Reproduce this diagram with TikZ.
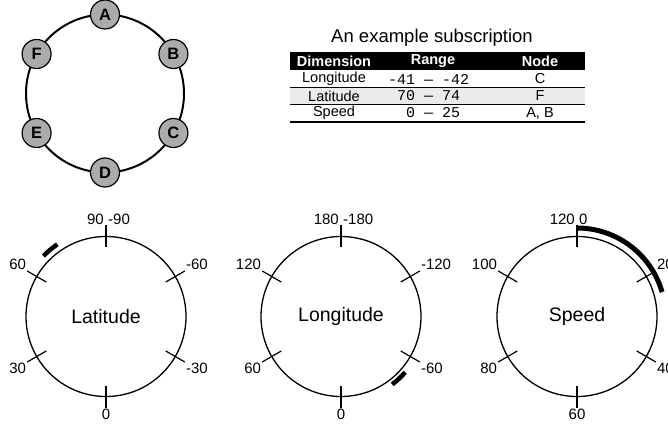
\documentclass[tikz,border=0pt]{standalone}
\usepackage{fontspec}
\setmainfont{Liberation Sans}
\newfontfamily\monof{Liberation Mono}
\definecolor{nodegray}{HTML}{ABABAB}
\definecolor{rowgray}{HTML}{EBEBEB}
\begin{document}
\begin{tikzpicture}[x=1pt,y=1pt,
  ringnode/.style={circle,draw=black,line width=1.2pt,fill=nodegray,minimum size=29pt,inner sep=0pt,font=\fontsize{16.5}{16.5}\selectfont\bfseries},
  dialline/.style={line width=1.3pt},
  tickline/.style={line width=1.2pt},
  ticklab/.style={font=\fontsize{15}{15}\selectfont,inner sep=1pt},
  dialname/.style={font=\fontsize{19.5}{20}\selectfont},
  rangebar/.style={line width=4.5pt},
  headtxt/.style={text=white,font=\fontsize{14.5}{15}\selectfont\bfseries,inner sep=0pt},
  celltxt/.style={font=\fontsize{14.5}{15}\selectfont,inner sep=0pt},
  monotxt/.style={font=\fontsize{15}{15}\selectfont\monof,inner sep=0pt,anchor=west},
  thinrule/.style={line width=0.8pt},
  thickrule/.style={line width=2pt}]
\useasboundingbox (0,0) rectangle (668,-427);

% ring of nodes
\coordinate (rc) at (105,-93.5);
\draw[line width=2pt] (rc) circle (79);
\foreach \n/\a in {A/90,B/30,C/-30,D/-90,E/210,F/150}
  \node[ringnode] (\n) at ([shift={(\a:79)}]rc) {\n};

% table
\node[font=\fontsize{18.5}{19}\selectfont] (title) at (432,-38) {An example subscription};
\fill[black] (290,-52) rectangle (585,-70.5);
\fill[rowgray] (290,-87.5) rectangle (585,-104.5);
\draw[thinrule] (290,-87.5) -- (585,-87.5);
\draw[thinrule] (290,-104.5) -- (585,-104.5);
\draw[thickrule] (290,-122.5) -- (585,-122.5);
\node[headtxt] (h1) at (334,-61.5) {Dimension};
\node[headtxt] (h2) at (433,-61.5) {Range};
\node[headtxt] (h3) at (540,-61.5) {Node};
\node[celltxt] (d1) at (334,-79) {Longitude};
\node[celltxt] (d2) at (334,-96) {Latitude};
\node[celltxt] (d3) at (334,-113) {Speed};
\node[monotxt] (r1) at (388,-79) {-41 — -42};
\node[monotxt] (r2) at (388,-96) {\hphantom{0}70 — 74};
\node[monotxt] (r3) at (388,-113) {\hphantom{00}0 — 25};
\node[celltxt] (n1) at (540,-79) {C};
\node[celltxt] (n2) at (540,-96) {F};
\node[celltxt] (n3) at (540,-113) {A, B};

% dials
\foreach \cx/\nm/\lab in {106/lat/Latitude,341/lon/Longitude,577/spd/Speed}{
  \coordinate (\nm) at (\cx,-316.5);
  \draw[dialline] (\nm) circle (80);
  \node[dialname] (\nm-name) at (\nm) {\lab};
  \foreach \a in {90,30,-30,-90,150,210}{
    \coordinate (\nm-t\a) at ([shift={(\a:91)}]\nm);
    \draw[tickline] ([shift={(\a:69)}]\nm) -- (\nm-t\a);
  }
}
% labels
\foreach \nm/\ta/\tb/\ua/\ub/\la/\lb/\bot in {lat/90/-90/60/-60/30/-30/0, lon/180/-180/120/-120/60/-60/0, spd/120/0/100/20/80/40/60}{
  \node[ticklab,anchor=south east] (\nm-la) at ([xshift=-1pt]\nm-t90) {\ta};
  \node[ticklab,anchor=south west] (\nm-lb) at ([xshift=1pt]\nm-t90) {\tb};
  \node[ticklab,anchor=south east] (\nm-lc) at (\nm-t150) {\ua};
  \node[ticklab,anchor=south west] (\nm-ld) at (\nm-t30) {\ub};
  \node[ticklab,anchor=north east] (\nm-le) at (\nm-t210) {\la};
  \node[ticklab,anchor=north west] (\nm-lf) at (\nm-t-30) {\lb};
  \node[ticklab,anchor=north] (\nm-lg) at (\nm-t-90) {\bot};
}
% subscription ranges
\draw[rangebar] ([shift={(136:87)}]lat) arc[start angle=136,end angle=124,radius=87];
\draw[rangebar] ([shift={(-53:85)}]lon) arc[start angle=-53,end angle=-41,radius=85];
\draw[line width=5pt] ([shift={(90:88.5)}]spd) arc[start angle=90,end angle=16,radius=88.5];
\end{tikzpicture}
\end{document}
